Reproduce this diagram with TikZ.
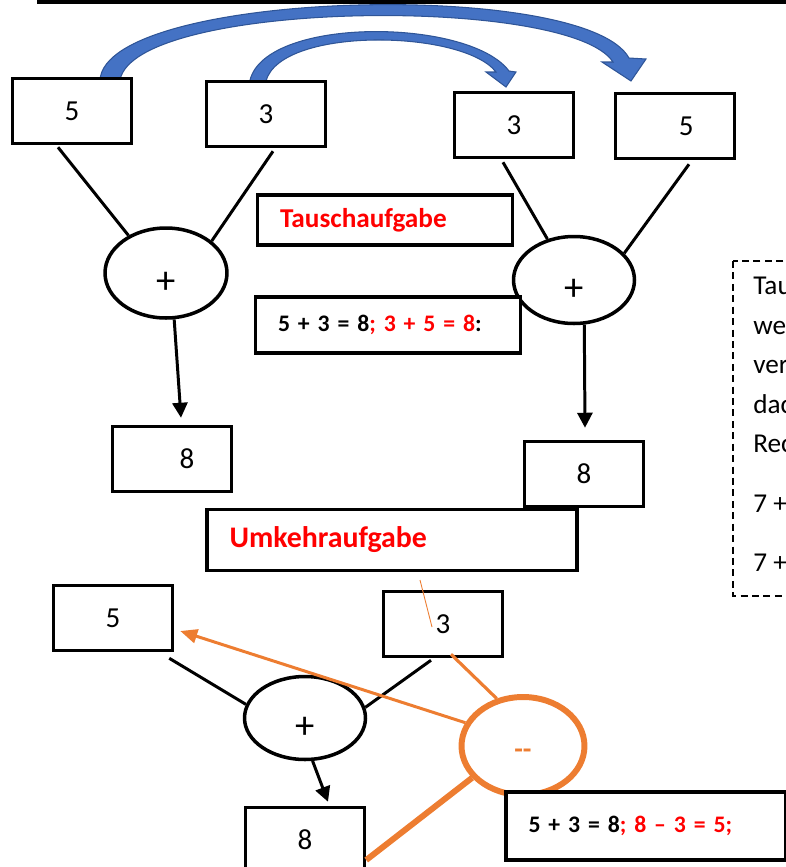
\documentclass[tikz,border=0pt]{standalone}
\usepackage{fontspec}
\setmainfont{Carlito}
\usetikzlibrary{shapes.geometric, arrows.meta, calc}

\definecolor{tred}{RGB}{255,0,0}
\definecolor{torange}{RGB}{237,125,49}
\definecolor{tblue}{RGB}{68,114,196}
\definecolor{tblueedge}{RGB}{47,85,151}

\tikzset{
    numbox/.style={draw, fill=white, line width=2pt, minimum width=2.38cm, minimum height=1.3cm,
        inner sep=0pt, font=\fontsize{16.5}{20}\selectfont},
    wordbox/.style={draw, fill=white, line width=2pt, align=left, inner xsep=0.45cm,
        text=tred, font=\bfseries\fontsize{15.5}{18}\selectfont},
    eqbox/.style={wordbox, text=black, font=\bfseries\fontsize{13.5}{16}\selectfont},
    op/.style={draw, ellipse, line width=2pt, inner sep=0pt},
    sign/.style={font=\fontsize{22}{26}\selectfont, yshift=-0.2cm},
    leg/.style={line width=1.7pt},
    swap/.style={fill=tblue, draw=tblueedge, line width=0.6pt},
}

\begin{document}
\begin{tikzpicture}[x=0.02cm, y=-0.02cm, >={Triangle[length=0.3cm,width=0.3cm]}]
    \useasboundingbox (0,0) rectangle (786,867);
    \fill (37,0) rectangle (786,4);

    % blue swap arrows
    \filldraw[swap] (100,80) .. controls (106,-10) and (585,-22) .. (629,58) -- (646,59) -- (631,81)
        -- (602,62) -- (613,62) .. controls (570,-5) and (135,0) .. (120,80) -- cycle;
    \filldraw[swap] (249,87) .. controls (252,16) and (468,16) .. (509,71) -- (516,72) -- (506,87)
        -- (486,72) -- (496,72) .. controls (462,28) and (268,26) .. (265,87) -- cycle;

    % Tauschaufgabe
    \node[numbox] (lfive) at (72,111) {5};
    \node[numbox] (lthree) at (266,114) {3};
    \node[numbox] (rthree) at (514,125) {3};
    \node[numbox] (rfive) at (675,126) {\hspace*{0.45cm}5};
    \node[op, minimum width=2.44cm, minimum height=1.8cm, label={[sign]center:+}] (lplus) at (166,273) {};
    \node[op, minimum width=2.42cm, minimum height=1.74cm, label={[sign]center:+}] (rplus) at (574,280) {};
    \node[numbox] (lsum) at (172,459) {\hspace*{0.6cm}8};
    \node[numbox] (rsum) at (584,474) {8};
    \node[wordbox, text width=4.2cm, minimum height=1cm] (tausch) at (385,220) {Tauschaufgabe};
    \node[eqbox, text width=4.4cm, minimum height=1.12cm] (teq) at (388,325)
        {5 + 3 = 8\textcolor{tred}{; 3 + 5 = 8}:};

    \draw[leg] ($(lfive.south)+(-14,2)$) -- (lplus.135);
    \draw[leg] ($(lthree.south)+(7,3)$) -- (lplus.35);
    \draw[leg, ->] (lplus.-80) -- ($(lsum.north)+(9,-7)$);
    \draw[leg] ($(rthree.south)+(-11,3)$) -- (rplus.123);
    \draw[leg] ($(rfive.south)+(14,4)$) -- (rplus.28);
    \draw[leg, ->] (rplus.-77) -- ($(rsum.north)+(1,-12)$);

    % note on the right
    \begin{scope}
        \clip (0,0) rectangle (786,867);
        \draw[line width=0.7pt, dash pattern=on 4pt off 2.5pt] (733,261) rectangle (800,596);
        \node[anchor=north west, inner sep=0pt, align=left, font=\fontsize{15.5}{22.5}\selectfont] (note)
            at (753,277) {Tau\\we\\ver\\dac\\Rec\\[11.5pt]7 +\\[11pt]7 +};
    \end{scope}

    % Umkehraufgabe
    \node[wordbox, text width=6.5cm, minimum height=1.22cm, font=\bfseries\fontsize{17}{20}\selectfont] (umk)
        at (392,540) {Umkehraufgabe};
    \node[numbox] (ufive) at (113,618) {5};
    \node[numbox] (uthree) at (443,624) {3};
    \node[op, minimum width=2.42cm, minimum height=1.66cm, label={[sign]center:+}] (uplus) at (305,718) {};
    \node[numbox] (usum) at (305,840) {8};
    \node[draw=torange, ellipse, line width=3.4pt, minimum width=2.46cm, minimum height=1.96cm,
        label={[text=torange, font=\bfseries\fontsize{16}{18}\selectfont, yshift=-0.16cm]center:-{}-}] (minus) at (523,746) {};
    \node[eqbox, text width=4.7cm, minimum height=1.36cm] (ueq) at (646,826)
        {5 + 3 = 8\textcolor{tred}{; 8 – 3 = 5;}};

    \draw[leg] ($(ufive.south east)+(-5,6)$) -- (uplus.167);
    \draw[leg] ($(uthree.south)+(-12,2)$) -- (uplus.10);
    \draw[leg, ->] (uplus.-80) -- ($(usum.north)+(23,-4)$);

    \coordinate (tick) at (420,580);
    \draw[torange, line width=0.5pt] (tick) -- ($(uthree)+(-11,3)$);
    \draw[torange, line width=1.8pt] ($(uthree.south)+(8,-4)$) -- (minus.119);
    \draw[torange, line width=1.7pt, -{Triangle[length=0.34cm,width=0.28cm]}] (minus.158) -- ($(ufive.east)+(6,13)$);
    \draw[torange, line width=3.4pt] (minus.212) -- ($(usum.east)+(0,20)$);
\end{tikzpicture}
\end{document}
